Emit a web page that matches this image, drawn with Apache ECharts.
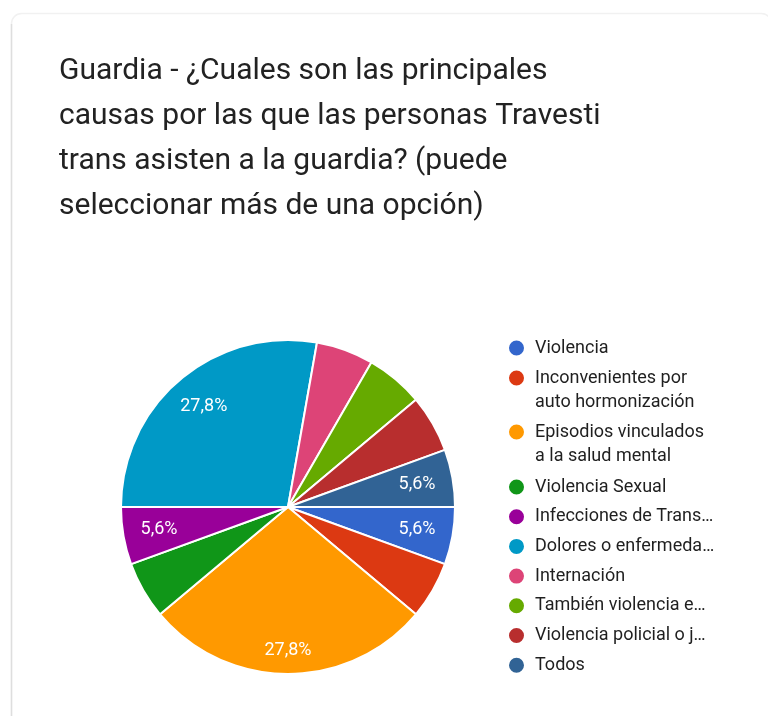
<!DOCTYPE html>
<html>
<head>
<meta charset="utf-8">
<script src="https://cdn.jsdelivr.net/npm/echarts@6/dist/echarts.min.js"></script>
<style>
  html, body { margin: 0; padding: 0; background: #ffffff; }
  #chart { width: 768px; height: 716px; }
</style>
</head>
<body>
<div id="chart"></div>
<script>
// Survey answers: emergency-room visit causes (multiple choice)
const categories = [
  'Violencia',
  'Inconvenientes por auto hormonización',
  'Episodios vinculados a la salud mental',
  'Violencia Sexual',
  'Infecciones de Trans…',
  'Dolores o enfermeda…',
  'Internación',
  'También violencia e…',
  'Violencia policial o j…',
  'Todos'
];
const responses = [1, 1, 5, 1, 1, 5, 1, 1, 1, 1];
const palette = ['#3366cc', '#dc3912', '#ff9900', '#109618', '#990099',
                 '#0099c6', '#dd4477', '#66aa00', '#b82e2e', '#316395'];
// slices whose percentage is printed on the pie
const labelled = ['Violencia', 'Episodios vinculados a la salud mental',
                  'Infecciones de Trans…', 'Dolores o enfermeda…', 'Todos'];
// wrapped legend text; the leading blank line keeps the marker beside the first line
const legendText = {
  'Inconvenientes por auto hormonización': '\nInconvenientes por\nauto hormonización',
  'Episodios vinculados a la salud mental': '\nEpisodios vinculados\na la salud mental'
};

const total = responses.reduce((a, b) => a + b, 0);
const fmtPct = v => (v / total * 100).toFixed(1).replace('.', ',') + '%';

const chart = echarts.init(document.getElementById('chart'), null, { renderer: 'canvas' });

const font = 'Roboto, "Noto Sans", sans-serif';
const legendBase = {
  orient: 'vertical',
  left: 507,
  padding: 0,
  itemWidth: 27,
  itemHeight: 17,
  icon: 'circle',
  selectedMode: false,
  formatter: n => legendText[n] || n,
  textStyle: { fontFamily: font, fontSize: 18, color: '#1f1f1f', lineHeight: 24 }
};

chart.setOption({
  backgroundColor: '#ffffff',
  color: palette,
  title: {
    text: 'Guardia - ¿Cuales son las principales\ncausas por las que las personas Travesti\ntrans asisten a la guardia? (puede\nseleccionar más de una opción)',
    left: 59,
    top: 49,
    padding: 0,
    textStyle: { fontFamily: font, fontSize: 30, fontWeight: 'normal', color: '#222222', lineHeight: 45 }
  },
  graphic: [
    {
      // card outline
      type: 'rect',
      shape: { x: 11.5, y: 13.5, width: 760, height: 740, r: 10 },
      style: { fill: 'none', stroke: '#f1f1f1', lineWidth: 1.5 },
      silent: true,
      z: -10
    },
    {
      type: 'line',
      shape: { x1: 11.5, y1: 24, x2: 11.5, y2: 716 },
      style: { stroke: '#dedede', lineWidth: 1.5 },
      silent: true,
      z: -9
    }
  ],
  legend: [
    Object.assign({}, legendBase, { data: [categories[0]], top: 336 }),
    Object.assign({}, legendBase, { data: [categories[1]], top: 342 }),
    Object.assign({}, legendBase, { data: [categories[2]], top: 396 }),
    Object.assign({}, legendBase, { data: categories.slice(3), top: 475, itemGap: 5.7 })
  ],
  series: [
    {
      type: 'pie',
      center: [288, 507],
      radius: [0, 167],
      startAngle: 0,
      clockwise: true,
      silent: true,
      label: { show: false },
      labelLine: { show: false },
      itemStyle: { borderColor: '#ffffff', borderWidth: 2 },
      data: categories.map((c, i) => ({ name: c, value: responses[i] }))
    },
    {
      // transparent ring that only carries the percentage labels
      type: 'pie',
      center: [288, 507],
      radius: [89, 167],
      startAngle: 0,
      clockwise: true,
      silent: true,
      labelLine: { show: false },
      itemStyle: { color: 'rgba(0,0,0,0)', borderWidth: 0 },
      label: {
        position: 'inside',
        color: '#ffffff',
        fontFamily: font,
        fontSize: 18,
        formatter: p => fmtPct(p.value)
      },
      data: categories.map((c, i) => ({
        name: c,
        value: responses[i],
        label: { show: labelled.indexOf(c) >= 0, offset: c.startsWith('Episodios') ? [0, 12] : [0, 0] }
      }))
    }
  ]
});
</script>
</body>
</html>
